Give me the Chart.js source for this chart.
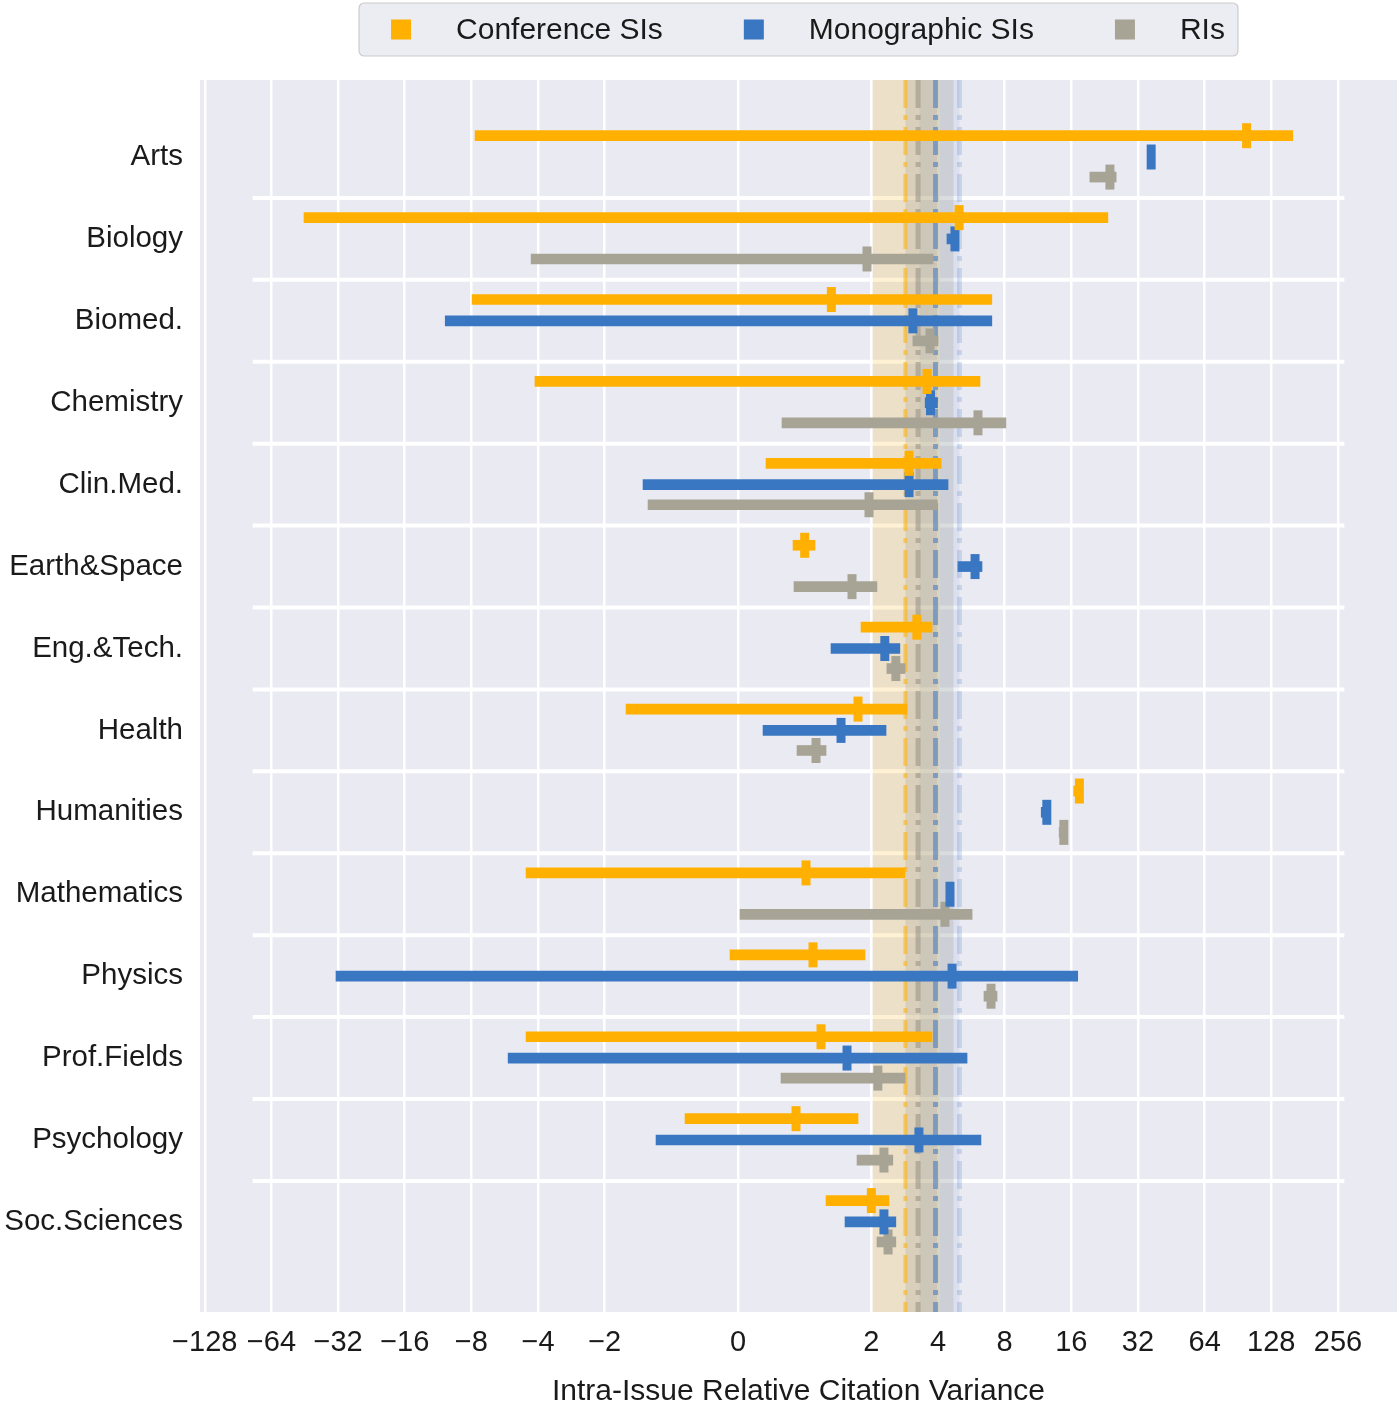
<!DOCTYPE html>
<html>
<head>
<meta charset="utf-8">
<script src="https://cdn.jsdelivr.net/npm/chart.js@4.4.1/dist/chart.umd.min.js"></script>
<style>
    html, body { margin: 0; padding: 0; background: #ffffff; overflow: hidden; }
    #wrap { width: 1400px; height: 1407px; }
    canvas { display: block; }
</style>
</head>
<body>
<div id="wrap"><canvas id="rcv-chart"></canvas></div>
<script>
'use strict';

// Categories (one group of three rows each).
var categories = ['Arts', 'Biology', 'Biomed.', 'Chemistry', 'Clin.Med.', 'Earth&Space',
    'Eng.&Tech.', 'Health', 'Humanities', 'Mathematics', 'Physics', 'Prof.Fields',
    'Psychology', 'Soc.Sciences'];

// Conference SIs: interval low / high and median.
var confLow  = [-7.7, -45.6, -7.94, -4.13, 0.42, 0.825, 1.845, -1.68, 16.4, -4.53, -0.12, -4.53, -0.795, 1.32];
var confHigh = [160, 23.4, 7.0, 6.19, 4.13, 1.155, 3.76, 2.9, 17.4, 2.84, 1.905, 3.76, 1.8, 2.4];
var confMed  = [99, 4.98, 1.4, 3.57, 2.96, 1.0, 3.21, 1.8, 17.4, 1.02, 1.125, 1.245, 0.87, 2.0];

// Monographic SIs.
var monoLow  = [36.7, 4.39, -10.5, 3.5, -1.425, 4.92, 1.395, 0.375, 11.7, 4.4, -32.7, -5.46, -1.23, 1.605];
var monoHigh = [36.7, 4.8, 7.0, 3.98, 4.44, 6.32, 2.69, 2.33, 12.4, 4.6, 17.1, 5.41, 6.25, 2.58];
var monoMed  = [36.7, 4.77, 3.08, 3.7, 2.96, 5.88, 2.3, 1.545, 12.4, 4.53, 4.63, 1.635, 3.28, 2.28];

// RIs.
var riLow  = [19.4, -4.3, 3.08, 0.66, -1.35, 0.84, 2.35, 0.885, 14.1, 0.03, 6.45, 0.645, 1.785, 2.12];
var riHigh = [25.5, 3.8, 4.0, 8.1, 3.97, 2.12, 2.84, 1.32, 14.8, 5.7, 7.39, 2.84, 2.5, 2.58];
var riMed  = [23.9, 1.935, 3.68, 6.06, 1.965, 1.71, 2.58, 1.17, 14.8, 4.3, 6.94, 2.14, 2.28, 2.38];

// Overall reference bands (span) and mean lines for each group.
var confBand = [2.03, 4.05];
var riBand   = [2.85, 4.7];
var monoBand = [3.3, 5.0];
var confMean = 2.85;
var riMean   = 3.25;
var monoMean = [3.9, 5.0];

// Tick labels of the symlog x axis.
var xTickValues = [-128, -64, -32, -16, -8, -4, -2, 0, 2, 4, 8, 16, 32, 64, 128, 256];

var COLORS = {
    conf: '#ffb000',
    mono: '#3a77c2',
    ri: '#a8a495',
    bg: '#eaeaf2',
    text: '#1a1a1a'
};
var FONT = 'Liberation Sans, Arial, sans-serif';

/**
 * Symmetric log transform, base 2, linthresh 2.
 */
function symlog(v) {
    var a = Math.abs(v);
    return a <= 2 ? v : Math.sign(v) * (1 + Math.log2(a));
}

function symexp(t) {
    var a = Math.abs(t);
    return a <= 2 ? t : Math.sign(t) * Math.pow(2, a - 1);
}

/**
 * Custom symlog scale.
 */
class SymlogScale extends Chart.Scale {
    parse(raw) {
        if (raw === null || raw === undefined) {
            return null;
        }
        var v = +raw;
        return isFinite(v) ? v : null;
    }

    determineDataLimits() {
        var mm = this.getMinMax(true);
        this.min = Number.isFinite(this.options.min) ? this.options.min : mm.min;
        this.max = Number.isFinite(this.options.max) ? this.options.max : mm.max;
    }

    buildTicks() {
        var min = this.min, max = this.max;
        return xTickValues.filter(function (v) {
            return v >= min && v <= max;
        }).map(function (v) {
            return { value: v };
        });
    }

    configure() {
        super.configure();
        this._startValue = symlog(this.min);
        this._valueRange = symlog(this.max) - symlog(this.min);
    }

    getPixelForValue(value) {
        if (value === null || value === undefined || isNaN(value)) {
            return NaN;
        }
        return this.getPixelForDecimal((symlog(value) - this._startValue) / this._valueRange);
    }

    getValueForPixel(pixel) {
        return symexp(this.getDecimalForPixel(pixel) * this._valueRange + this._startValue);
    }
}
SymlogScale.id = 'symlog';
SymlogScale.defaults = {};
Chart.register(SymlogScale);

/**
 * Scatter controller for the median ticks; the big markers should not
 * push the plot area in from the canvas edge.
 */
class MarkerController extends Chart.ScatterController {
    getMaxOverflow() {
        return 0;
    }
}
MarkerController.id = 'marker';
MarkerController.defaults = Object.assign({}, Chart.ScatterController.defaults);
MarkerController.overrides = {};
Chart.register(MarkerController);

/**
 * Build floating bar data for one group.
 */
function barData(low, high, offset) {
    return categories.map(function (c, i) {
        return { y: i + offset, x: [low[i], high[i]] };
    });
}

function medData(med, offset) {
    return categories.map(function (c, i) {
        return { y: i + offset, x: med[i] };
    });
}

function rangeDataset(label, low, high, offset, color) {
    return {
        type: 'bar',
        label: label,
        indexAxis: 'y',
        data: barData(low, high, offset),
        backgroundColor: color,
        borderWidth: 0,
        barThickness: 10,
        grouped: false,
        order: 2
    };
}

function medianDataset(label, med, offset, color) {
    return {
        type: 'marker',
        label: label,
        data: medData(med, offset),
        pointStyle: 'line',
        rotation: 90,
        radius: 12.5,
        hoverRadius: 12.5,
        borderWidth: 9,
        borderColor: color,
        backgroundColor: color,
        showLine: false,
        order: 1
    };
}

/**
 * Background, category separators and reference bands.
 */
var backdropPlugin = {
    id: 'backdrop',
    beforeDraw: function (chart) {
        var a = chart.chartArea;
        var ctx = chart.ctx;
        ctx.save();
        ctx.fillStyle = COLORS.bg;
        ctx.fillRect(a.left, a.top, a.right - a.left, a.bottom - a.top);
        ctx.restore();
    },
    beforeDatasetsDraw: function (chart) {
        var a = chart.chartArea;
        var ctx = chart.ctx;
        var xs = chart.scales.x;
        var ys = chart.scales.y;
        var w = a.right - a.left;
        var i;

        ctx.save();

        // Separators between categories.
        ctx.strokeStyle = '#ffffff';
        ctx.lineWidth = 4;
        for (i = 0; i < categories.length - 1; i++) {
            var py = ys.getPixelForValue(i + 0.5);
            ctx.beginPath();
            ctx.moveTo(a.left + w * 0.044, py);
            ctx.lineTo(a.left + w * 0.956, py);
            ctx.stroke();
        }

        // Reference bands.
        var bands = [
            { span: confBand, fill: 'rgba(255, 176, 0, 0.17)' },
            { span: riBand, fill: 'rgba(168, 164, 149, 0.28)' },
            { span: monoBand, fill: 'rgba(58, 119, 194, 0.08)' }
        ];
        bands.forEach(function (b) {
            var l = xs.getPixelForValue(b.span[0]);
            var r = xs.getPixelForValue(b.span[1]);
            ctx.fillStyle = b.fill;
            ctx.fillRect(l, a.top, r - l, a.bottom - a.top);
        });

        // Mean lines (dash-dot).
        var lines = [
            { v: confMean, color: 'rgba(255, 176, 0, 0.55)', width: 4 },
            { v: riMean, color: 'rgba(150, 146, 132, 0.55)', width: 5 },
            { v: monoMean[0], color: 'rgba(58, 119, 194, 0.55)', width: 5 },
            { v: monoMean[1], color: 'rgba(58, 119, 194, 0.2)', width: 5 }
        ];
        ctx.setLineDash([28, 7, 5, 7]);
        lines.forEach(function (ln) {
            var px = xs.getPixelForValue(ln.v);
            ctx.strokeStyle = ln.color;
            ctx.lineWidth = ln.width;
            ctx.beginPath();
            ctx.moveTo(px, a.top);
            ctx.lineTo(px, a.bottom);
            ctx.stroke();
        });

        ctx.restore();
    }
};

/**
 * Framed legend above the plot.
 */
var legendBoxPlugin = {
    id: 'legendBox',
    afterDraw: function (chart) {
        var ctx = chart.ctx;
        var a = chart.chartArea;
        var items = chart.data.datasets.filter(function (d) {
            return d.type === 'bar';
        });
        var padL = 32, padR = 13, mark = 20, gapText = 45, gapItem = 81;

        ctx.save();
        ctx.font = '30px ' + FONT;
        var total = padL + padR;
        items.forEach(function (d, i) {
            total += mark + gapText + ctx.measureText(d.label).width;
            if (i < items.length - 1) {
                total += gapItem;
            }
        });

        var left = (a.left + a.right) / 2 - total / 2;
        var top = 3, h = 53, cy = top + h / 2;

        ctx.beginPath();
        ctx.roundRect(left, top, total, h, 5);
        ctx.fillStyle = 'rgba(234, 234, 242, 0.9)';
        ctx.fill();
        ctx.strokeStyle = '#cccccc';
        ctx.lineWidth = 1.2;
        ctx.stroke();

        var x = left + padL;
        ctx.textBaseline = 'middle';
        ctx.textAlign = 'left';
        items.forEach(function (d) {
            ctx.fillStyle = d.backgroundColor;
            ctx.fillRect(x, cy - mark / 2, mark, mark);
            x += mark + gapText;
            ctx.fillStyle = COLORS.text;
            ctx.fillText(d.label, x, cy + 1);
            x += ctx.measureText(d.label).width + gapItem;
        });
        ctx.restore();
    }
};

function initChart() {
    var canvas = document.getElementById('rcv-chart');
    var ctx = canvas.getContext('2d');

    new Chart(ctx, {
        data: {
            datasets: [
                rangeDataset('Conference SIs', confLow, confHigh, -0.26, COLORS.conf),
                rangeDataset('Monographic SIs', monoLow, monoHigh, 0, COLORS.mono),
                rangeDataset('RIs', riLow, riHigh, 0.245, COLORS.ri),
                medianDataset('Conference SIs median', confMed, -0.26, COLORS.conf),
                medianDataset('Monographic SIs median', monoMed, 0, COLORS.mono),
                medianDataset('RIs median', riMed, 0.245, COLORS.ri)
            ]
        },
        options: {
            responsive: true,
            maintainAspectRatio: false,
            animation: false,
            devicePixelRatio: 1,
            layout: {
                padding: { top: 80, right: 3, left: 0, bottom: 0 }
            },
            plugins: {
                legend: { display: false },
                tooltip: { enabled: false }
            },
            scales: {
                x: {
                    type: 'symlog',
                    position: 'bottom',
                    offset: false,
                    min: -134.5,
                    max: 473,
                    grid: {
                        color: '#ffffff',
                        lineWidth: 2.5,
                        drawTicks: false,
                        offset: false
                    },
                    border: { display: false },
                    ticks: {
                        autoSkip: false,
                        maxRotation: 0,
                        padding: 14,
                        color: COLORS.text,
                        font: { family: FONT, size: 29 },
                        callback: function (value) {
                            return value < 0 ? '\u2212' + Math.abs(value) : String(value);
                        }
                    },
                    title: {
                        display: true,
                        text: 'Intra-Issue Relative Citation Variance',
                        color: COLORS.text,
                        font: { family: FONT, size: 30, lineHeight: 1 },
                        padding: { top: 0, bottom: 0 }
                    },
                    afterFit: function (scale) {
                        scale.height = 95;
                        scale.paddingLeft = 0;
                        scale.paddingRight = 0;
                    }
                },
                y: {
                    type: 'linear',
                    reverse: true,
                    offset: false,
                    min: -0.94,
                    max: 14.1,
                    grid: { display: false, drawTicks: false, offset: false },
                    border: { display: false },
                    afterBuildTicks: function (scale) {
                        scale.ticks = categories.map(function (c, i) {
                            return { value: i };
                        });
                    },
                    ticks: {
                        autoSkip: false,
                        padding: 17,
                        color: COLORS.text,
                        font: { family: FONT, size: 29.5 },
                        callback: function (value) {
                            return categories[value];
                        }
                    },
                    afterFit: function (scale) {
                        scale.width = 200;
                        scale.paddingTop = 0;
                        scale.paddingBottom = 0;
                    }
                }
            }
        },
        plugins: [backdropPlugin, legendBoxPlugin]
    });
}

document.addEventListener('DOMContentLoaded', initChart);
</script>
</body>
</html>
